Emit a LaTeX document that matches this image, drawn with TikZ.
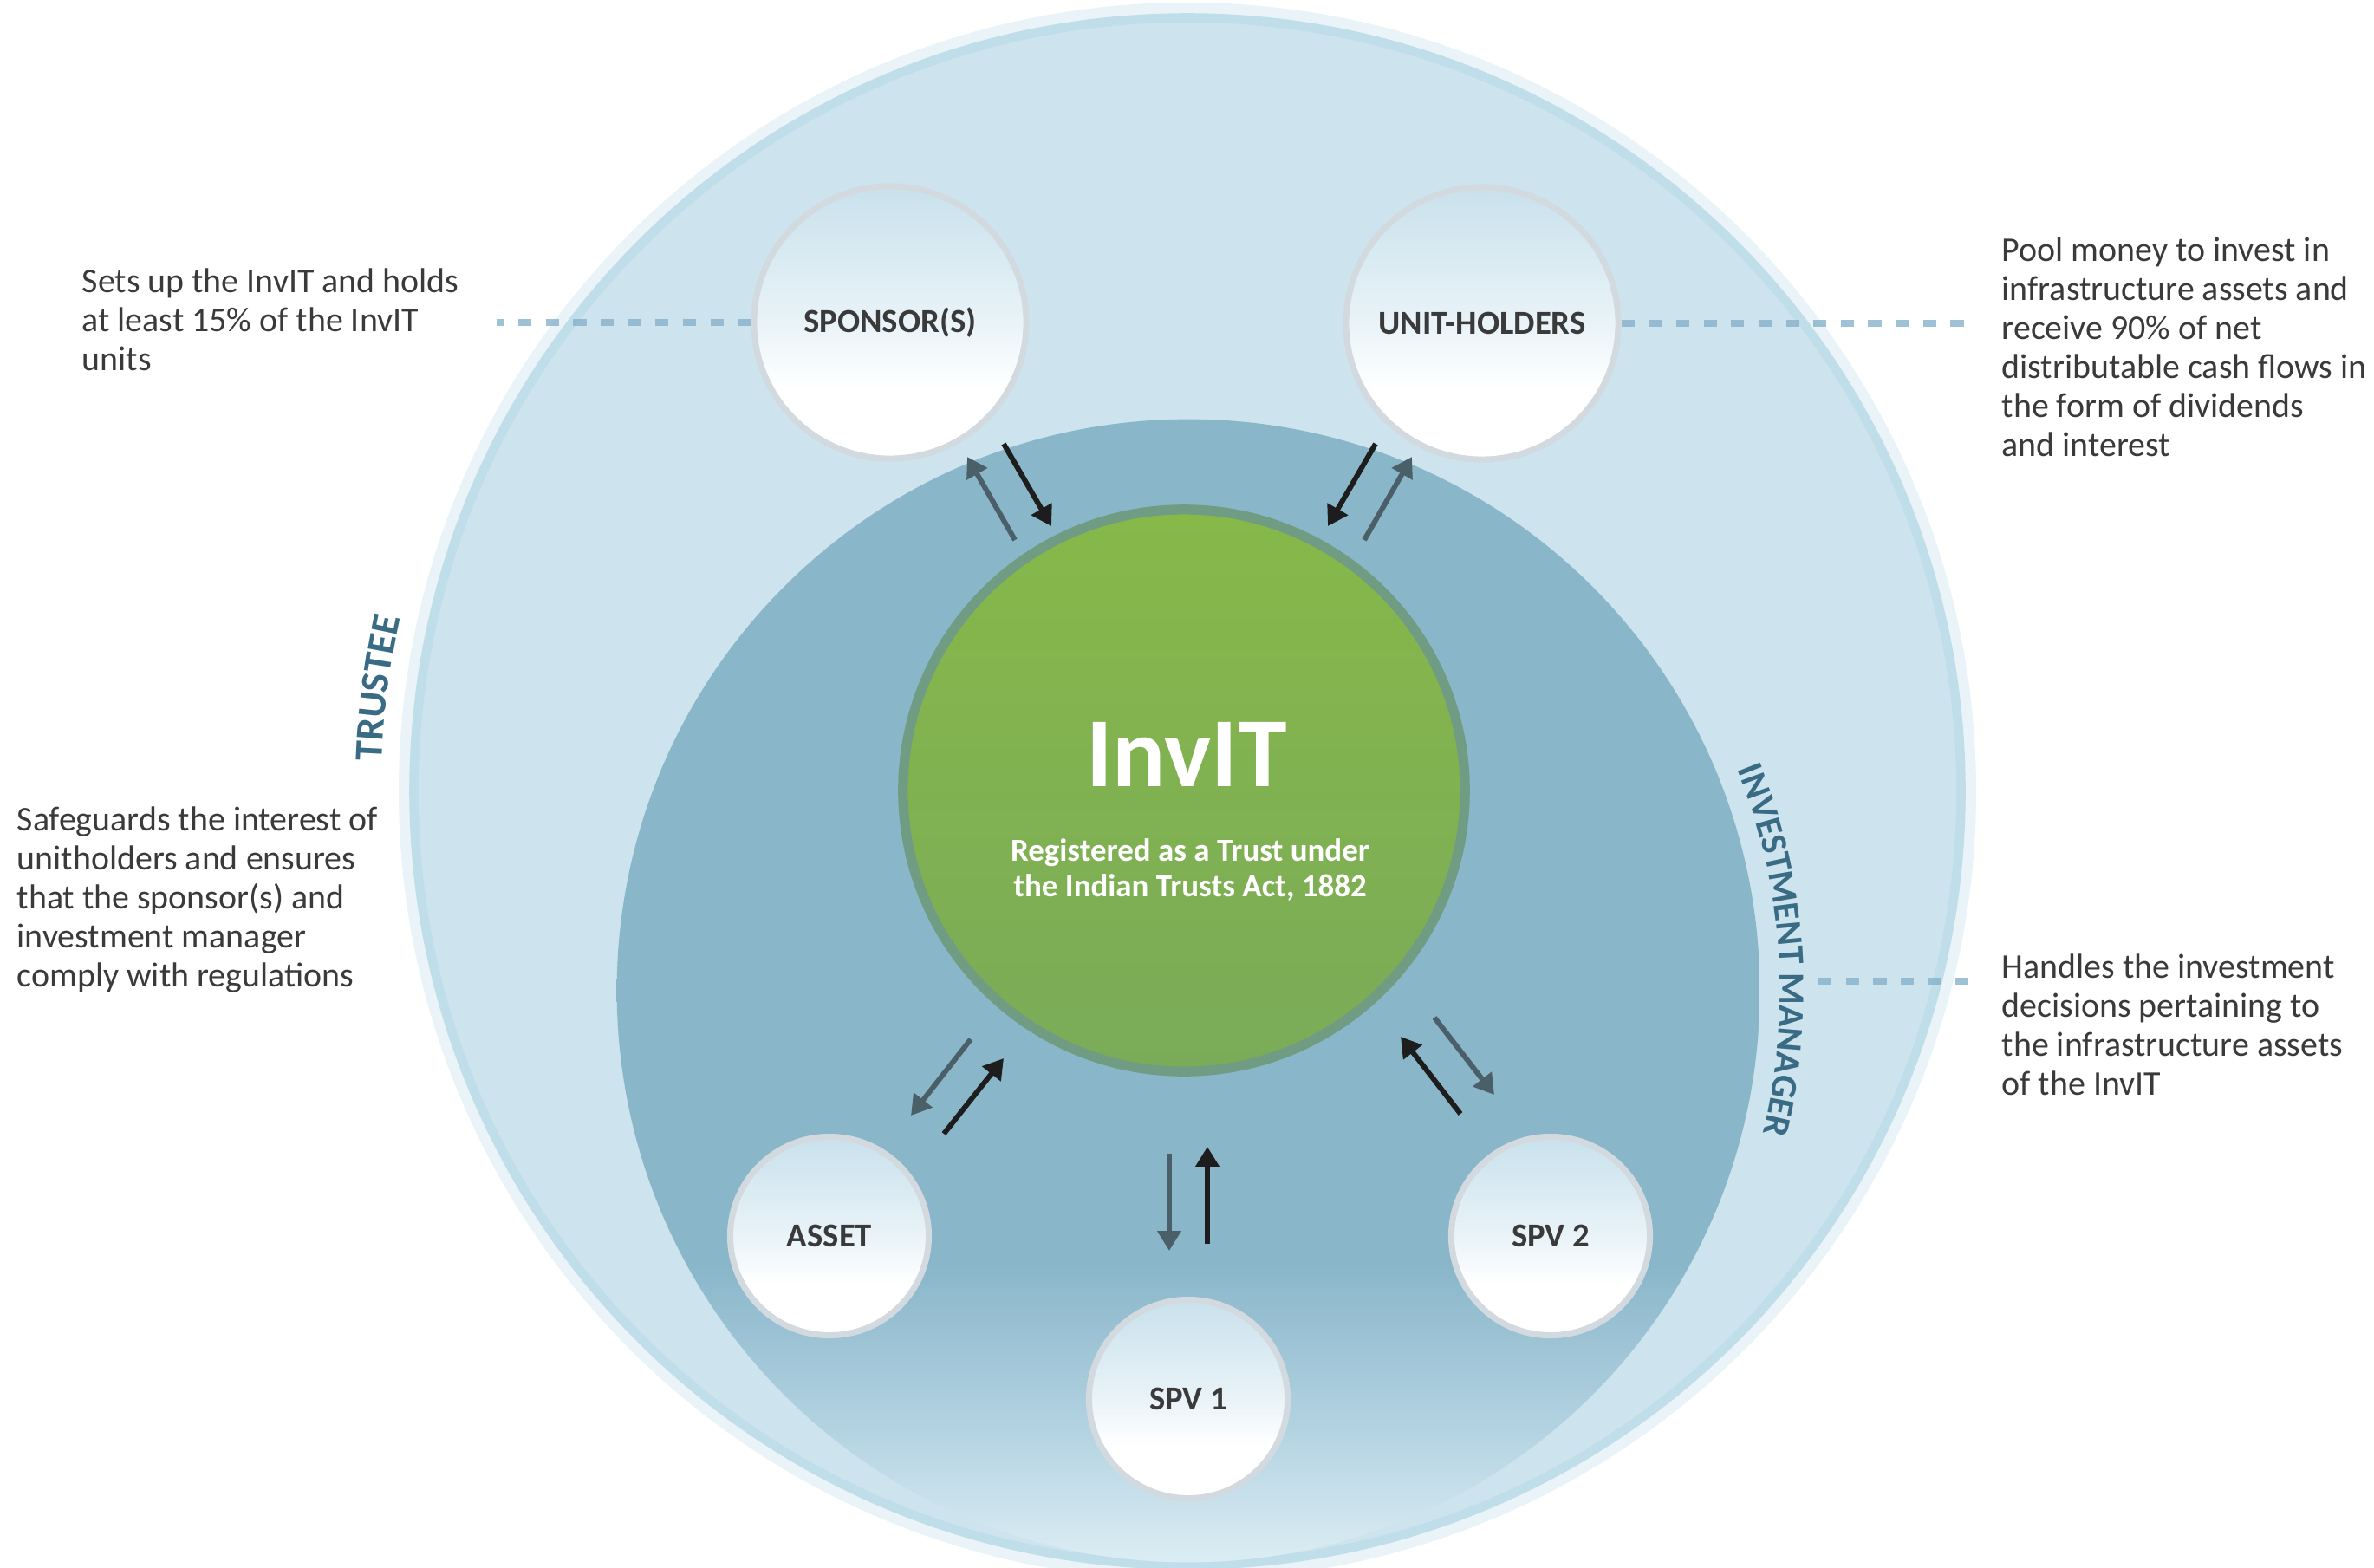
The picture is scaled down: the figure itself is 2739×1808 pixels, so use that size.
\documentclass[tikz,border=0pt]{standalone}
\usepackage{fontspec}
\setmainfont{Carlito}
\usetikzlibrary{arrows.meta,decorations.text,calc}

\definecolor{ringlight}{HTML}{CDE3ED}
\definecolor{ringedge}{HTML}{C0DDEA}
\definecolor{ringglow}{HTML}{E9F3F8}
\definecolor{mgrblue}{HTML}{8AB6CA}
\definecolor{mgrmid}{HTML}{B2D2E1}
\definecolor{mgrpale}{HTML}{DCEDF4}
\definecolor{invgreentop}{HTML}{87B84A}
\definecolor{invgreenbot}{HTML}{7AAB58}
\definecolor{invrim}{HTML}{709C84}
\definecolor{bubbletop}{HTML}{C9E1EC}
\definecolor{bubblemid}{HTML}{E9F3F8}
\definecolor{bubblerim}{HTML}{D2DADF}
\definecolor{textgrey}{HTML}{3A3A3A}
\definecolor{rolelabel}{HTML}{396C84}
\definecolor{leader}{HTML}{86B2CB}
\definecolor{flowdark}{HTML}{1D1D1D}
\definecolor{flowgrey}{HTML}{4B5F69}

\pgfdeclareverticalshading{mgrshade}{100bp}{color(0bp)=(mgrpale); color(25bp)=(mgrpale); color(31bp)=(mgrmid); color(38bp)=(mgrblue); color(100bp)=(mgrblue)}
\pgfdeclareverticalshading{bubbleshade}{100bp}{color(0bp)=(white); color(38bp)=(white); color(50bp)=(bubblemid); color(75bp)=(bubbletop); color(100bp)=(bubbletop)}

\begin{document}
\begin{tikzpicture}[x=0.01cm, y=-0.01cm,
  bubble/.style={circle, draw=bubblerim, line width=2pt, shading=bubbleshade, text=textgrey, font=\fontsize{11}{13}\selectfont\bfseries, inner sep=0pt},
  flowin/.style={draw=flowdark, line width=1.7pt, -{Triangle[length=6.5pt,width=7.5pt]}},
  flowout/.style={draw=flowgrey, line width=1.7pt, -{Triangle[length=6.5pt,width=7.5pt]}},
  leaderline/.style={draw=leader, draw opacity=0.8, line width=2.3pt, dash pattern=on 4.3pt off 4.7pt},
  note/.style={anchor=north west, align=left, inner sep=0pt, text=textgrey, font=\fontsize{11.35}{12.8}\selectfont}]
	\useasboundingbox (0,0) rectangle (2739,1808);
	\fill[ringglow] (1370,913) circle[radius=910];
	\node[circle, minimum size=17.84cm, fill=ringlight, draw=ringedge, line width=3pt] (trust) at (1370,913) {};
	\node[circle, minimum size=13.18cm, shading=mgrshade, inner sep=0pt] (manager) at (1371,1143) {};
	\node[circle, minimum size=6.48cm, draw=invrim, line width=3.2pt, top color=invgreentop, bottom color=invgreenbot] (invit) at (1366,912) {};
	\node[font=\fontsize{32.5}{34}\selectfont\bfseries, text=white, anchor=base, inner sep=0pt] (invitname) at (1369,907) {InvIT};
	\node[font=\fontsize{10.5}{11.7}\selectfont\bfseries, text=white, align=center, anchor=north, inner sep=0pt] (invitnote) at (1373,967) {Registered as a Trust under\\the Indian Trusts Act, 1882};

	\node[bubble, minimum size=3.14cm] (sponsor) at (1027,372) {SPONSOR(S)};
	\node[bubble, minimum size=3.14cm] (holders) at (1710,373) {UNIT-HOLDERS};
	\node[bubble, minimum size=2.29cm] (asset) at (957,1426) {ASSET};
	\node[bubble, minimum size=2.29cm] (spv1) at (1371,1614) {SPV 1};
	\node[bubble, minimum size=2.29cm] (spv2) at (1789,1426) {SPV 2};

	% flows between the InvIT and the parties
	\draw[flowin] ($(sponsor)+(131,140)$) -- ($(invit)+(-153,-305)$);
	\draw[flowout] ($(invit)+(-195,-289)$) -- ($(sponsor)+(89,155)$);
	\draw[flowin] ($(holders)+(-123,139)$) -- ($(invit)+(166,-305)$);
	\draw[flowout] ($(invit)+(208,-289)$) -- ($(holders)+(-81,154)$);
	\draw[flowout] ($(invit)+(-246,287)$) -- ($(asset)+(94,-139)$);
	\draw[flowin] ($(asset)+(132,-118)$) -- ($(invit)+(-208,309)$);
	\draw[flowout] ($(invit)+(-17,419)$) -- ($(spv1)+(-22,-171)$);
	\draw[flowin] ($(spv1)+(22,-179)$) -- ($(invit)+(27,411)$);
	\draw[flowout] ($(invit)+(289,262)$) -- ($(spv2)+(-65,-163)$);
	\draw[flowin] ($(spv2)+(-104,-141)$) -- ($(invit)+(250,284)$);

	\draw[leaderline] (sponsor.west) -- ++(-293,0);
	\draw[leaderline] (holders.east) -- ++(400,0);
	\draw[leaderline] ($(manager.east)+(67,-11)$) -- ++(174,0);

	\path[decorate, decoration={text along path, text align=center, text color=rolelabel,
	  text format delimiters={|}{|}, text={|\fontsize{13}{13}\selectfont\bfseries|TRUSTEE}}]
	  ($(trust)+(-182.7:930)$) arc[start angle=-182.7, end angle=-162.7, radius=930];
	\path[decorate, decoration={text along path, text align=center, text color=rolelabel,
	  text format delimiters={|}{|}, text={|\fontsize{12}{12}\selectfont\bfseries|INVESTMENT MANAGER}}]
	  ($(manager)+(-26:683)$) arc[start angle=-26, end angle=18, radius=683];

	\node[note] (sponsornote) at (94,309) {Sets up the InvIT and holds\\at least 15\% of the InvIT\\units};
	\node[note] (trusteenote) at (19,930) {Safeguards the interest of\\unitholders and ensures\\that the sponsor(s) and\\investment manager\\comply with regulations};
	\node[note] (holdersnote) at (2309,273) {Pool money to invest in\\infrastructure assets and\\receive 90\% of net\\distributable cash flows in\\the form of dividends\\and interest};
	\node[note] (managernote) at (2309,1100) {Handles the investment\\decisions pertaining to\\the infrastructure assets\\of the InvIT};
\end{tikzpicture}
\end{document}
